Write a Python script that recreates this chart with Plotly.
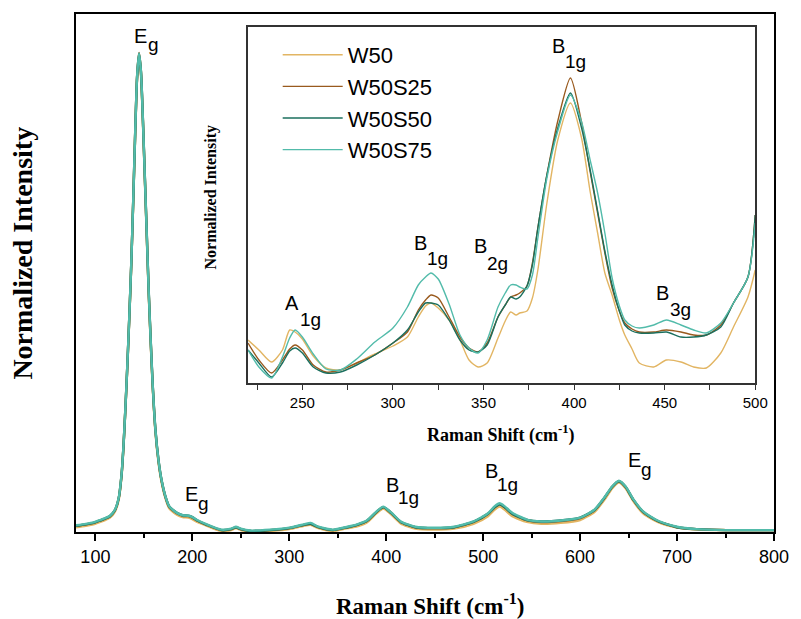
import plotly.graph_objects as go

# ---------------- main spectrum (normalized, peak = 1) ----------------
main_x = [80, 90, 98, 105, 110, 115, 120, 124, 127, 129, 131, 133, 135, 137, 139, 141, 143, 145,
          147, 149, 151, 153, 155, 157, 159, 162, 165, 168, 172, 176, 180, 185, 190, 196, 200, 205,
          215, 230, 240, 245, 250, 260, 280, 300, 315, 322, 330, 345, 360, 370, 380, 390, 397, 405,
          415, 430, 450, 470, 490, 505, 512, 517, 522, 530, 545, 560, 580, 600, 615, 625, 633, 640,
          647, 655, 665, 680, 700, 720, 750, 800]

main_w50 = [0.010, 0.013, 0.016, 0.021, 0.025, 0.030, 0.042, 0.067, 0.117, 0.177, 0.257, 0.347, 0.447, 0.557, 0.687, 0.827, 0.947, 0.995,
            0.957, 0.857, 0.737, 0.617, 0.497, 0.397, 0.307, 0.207, 0.147, 0.107, 0.072, 0.050, 0.042, 0.035, 0.031, 0.030, 0.027, 0.021,
            0.013, 0.002, 0.004, 0.008, 0.004, 0.001, 0.002, 0.006, 0.013, 0.015, 0.008, 0.002, 0.008, 0.012, 0.020, 0.039, 0.049, 0.037,
            0.018, 0.007, 0.005, 0.007, 0.017, 0.033, 0.047, 0.053, 0.047, 0.033, 0.021, 0.017, 0.019, 0.025, 0.042, 0.067, 0.091, 0.103,
            0.091, 0.064, 0.039, 0.021, 0.009, 0.005, 0.004, 0.004]

main_w50s25 = [0.013, 0.016, 0.019, 0.024, 0.028, 0.033, 0.045, 0.070, 0.120, 0.180, 0.260, 0.350, 0.450, 0.560, 0.690, 0.830, 0.950, 1.000,
               0.960, 0.860, 0.740, 0.620, 0.500, 0.400, 0.310, 0.210, 0.150, 0.110, 0.075, 0.053, 0.045, 0.038, 0.034, 0.033, 0.030, 0.024,
               0.015, 0.004, 0.006, 0.010, 0.006, 0.002, 0.004, 0.008, 0.015, 0.017, 0.010, 0.004, 0.010, 0.015, 0.023, 0.042, 0.052, 0.040,
               0.021, 0.010, 0.008, 0.010, 0.021, 0.038, 0.052, 0.058, 0.052, 0.038, 0.025, 0.021, 0.023, 0.029, 0.046, 0.071, 0.094, 0.106,
               0.094, 0.067, 0.042, 0.023, 0.010, 0.006, 0.004, 0.004]

main_w50s50 = [0.013, 0.016, 0.019, 0.024, 0.028, 0.033, 0.045, 0.070, 0.119, 0.179, 0.259, 0.349, 0.449, 0.559, 0.689, 0.829, 0.949, 0.998,
               0.962, 0.863, 0.744, 0.624, 0.504, 0.404, 0.313, 0.213, 0.152, 0.111, 0.076, 0.054, 0.046, 0.039, 0.035, 0.034, 0.031, 0.024,
               0.015, 0.004, 0.006, 0.010, 0.006, 0.002, 0.004, 0.008, 0.015, 0.017, 0.010, 0.004, 0.010, 0.015, 0.023, 0.042, 0.052, 0.040,
               0.021, 0.010, 0.008, 0.010, 0.021, 0.038, 0.052, 0.058, 0.052, 0.038, 0.025, 0.022, 0.024, 0.030, 0.046, 0.071, 0.094, 0.106,
               0.094, 0.067, 0.042, 0.023, 0.010, 0.006, 0.004, 0.004]

main_w50s75 = [0.014, 0.017, 0.020, 0.025, 0.029, 0.034, 0.046, 0.071, 0.121, 0.181, 0.261, 0.351, 0.451, 0.561, 0.691, 0.831, 0.951, 0.999,
               0.961, 0.861, 0.741, 0.621, 0.501, 0.401, 0.311, 0.211, 0.151, 0.111, 0.076, 0.054, 0.046, 0.039, 0.035, 0.034, 0.031, 0.025,
               0.016, 0.005, 0.007, 0.011, 0.007, 0.003, 0.005, 0.009, 0.016, 0.019, 0.011, 0.005, 0.011, 0.016, 0.024, 0.043, 0.053, 0.041,
               0.022, 0.011, 0.009, 0.011, 0.022, 0.039, 0.054, 0.060, 0.054, 0.040, 0.026, 0.022, 0.024, 0.030, 0.047, 0.072, 0.095, 0.107,
               0.095, 0.068, 0.043, 0.024, 0.011, 0.006, 0.004, 0.004]

# ---------------- inset spectrum (220-500 cm-1, arbitrary normalized units) ----------------
inset_x = [220, 226, 233, 239, 243, 246, 250, 256, 263, 271, 280, 290, 300, 308, 314, 318, 321, 325,
           331, 337, 342, 347, 352, 358, 362, 365, 368, 370, 374, 377, 380, 385, 391, 398, 404, 409,
           413, 417, 421, 425, 428, 432, 436, 444, 451, 459, 466, 473, 481, 488, 496, 500]

inset_w50 = [43, 33, 21, 33, 53, 51, 44, 27, 15, 13, 20, 29, 37, 46, 66, 77, 80, 75,
             63, 43, 23, 16, 20, 45, 62, 71, 68, 70, 72, 85, 113, 180, 243, 280, 246, 190,
             150, 110, 88, 63, 48, 34, 20, 16, 23, 21, 16, 15, 30, 56, 86, 113]

inset_w50s25 = [40, 23, 10, 23, 34, 38, 33, 18, 11, 13, 20, 28, 40, 51, 73, 83, 88, 85,
                66, 46, 35, 31, 40, 66, 78, 86, 88, 90, 97, 120, 155, 208, 262, 305, 262, 210,
                170, 130, 95, 72, 60, 54, 51, 51, 53, 51, 48, 48, 58, 80, 106, 168]

inset_w50s50 = [33, 20, 6, 20, 32, 35, 30, 16, 10, 11, 18, 28, 40, 53, 71, 80, 80, 78,
                63, 43, 33, 31, 38, 66, 78, 86, 84, 86, 97, 118, 155, 208, 255, 290, 256, 212,
                172, 132, 98, 72, 58, 52, 50, 50, 51, 46, 46, 48, 56, 80, 106, 168]

inset_w50s75 = [33, 16, 5, 26, 45, 53, 46, 29, 14, 13, 24, 41, 55, 76, 98, 106, 110, 104,
                79, 48, 35, 30, 43, 76, 90, 98, 98, 96, 94, 108, 145, 205, 252, 288, 262, 222,
                190, 150, 105, 77, 63, 57, 55, 58, 63, 58, 53, 50, 60, 80, 106, 160]

series_names = ["W50", "W50S25", "W50S50", "W50S75"]
series_colors = ["#E2B563", "#995A1E", "#1B6F5E", "#52BBAA"]
main_series = [main_w50, main_w50s25, main_w50s50, main_w50s75]
inset_series = [inset_w50, inset_w50s25, inset_w50s50, inset_w50s75]

# peak labels: letter, subscript
peak_letters = ["E", "E", "B", "B", "E", "A", "B", "B", "B", "B"]
peak_subs = ["g", "g", "1g", "1g", "g", "1g", "1g", "2g", "1g", "3g"]
# pixel positions (letter centre, subscript centre)
peak_letter_pos = [(141, 36), (193, 494), (396, 485), (496, 471), (641, 460),
                   (294, 303), (424, 243), (485, 246), (564, 46), (669, 293)]
peak_sub_pos = [(154, 44), (205, 503), (412, 497), (512, 484), (653, 469),
                (313, 319), (442, 258), (502, 263), (581, 61), (687, 309)]

# ---------------- figure geometry (pixels) ----------------
W, H = 801, 619
L, R, T, B = 76, 782, 14, 532
IL, IR, IT, IB = 250, 763, 27, 383


def px(X):
    return (X - L) / (R - L)


def py(Y):
    return (B - Y) / (B - T)


fig = go.Figure()

for name, color, vals in zip(series_names, series_colors, main_series):
    fig.add_trace(go.Scatter(x=main_x, y=vals, mode="lines", name=name, showlegend=False,
                             line=dict(color=color, width=2.4, shape="spline", smoothing=0.6),
                             xaxis="x", yaxis="y"))

for name, color, vals in zip(series_names, series_colors, inset_series):
    fig.add_trace(go.Scatter(x=inset_x, y=vals, mode="lines", name=name, showlegend=True,
                             line=dict(color=color, width=1.4, shape="spline", smoothing=0.7),
                             xaxis="x2", yaxis="y2"))

sans = "Liberation Sans, Arial, sans-serif"
serif = "Liberation Serif, Times New Roman, serif"

annotations = []
for letter, sub, (X1, Y1), (X2, Y2) in zip(peak_letters, peak_subs, peak_letter_pos, peak_sub_pos):
    annotations.append(dict(text=letter, x=px(X1), y=py(Y1), xref="paper", yref="paper",
                            showarrow=False, font=dict(family=sans, size=20, color="black"),
                            xanchor="center", yanchor="middle"))
    annotations.append(dict(text=sub, x=px(X2), y=py(Y2), xref="paper", yref="paper",
                            showarrow=False, font=dict(family=sans, size=19, color="black"),
                            xanchor="center", yanchor="middle"))

annotations += [
    dict(text="<b>Normalized Intensity</b>", x=px(22), y=py(253), xref="paper", yref="paper",
         textangle=-90, showarrow=False, font=dict(family=serif, size=28, color="black"),
         xanchor="center", yanchor="middle"),
    dict(text="<b>Raman Shift (cm<sup>-1</sup>)</b>", x=px(434), y=py(604), xref="paper", yref="paper",
         showarrow=False, font=dict(family=serif, size=23, color="black"),
         xanchor="center", yanchor="middle"),
    dict(text="<b>Normalized Intensity</b>", x=px(213), y=py(197), xref="paper", yref="paper",
         textangle=-90, showarrow=False, font=dict(family=serif, size=16, color="black"),
         xanchor="center", yanchor="middle"),
    dict(text="<b>Raman Shift (cm<sup>-1</sup>)</b>", x=px(506), y=py(434), xref="paper", yref="paper",
         showarrow=False, font=dict(family=serif, size=18, color="black"),
         xanchor="center", yanchor="middle"),
]

fig.update_layout(
    width=W, height=H,
    margin=dict(l=L, r=W - R, t=T, b=H - B, pad=0),
    paper_bgcolor="white", plot_bgcolor="white",
    showlegend=True,
    legend=dict(x=px(280), y=py(34), xanchor="left", yanchor="top",
                font=dict(family=sans, size=22, color="black"),
                itemwidth=60,
                bgcolor="rgba(0,0,0,0)", borderwidth=0, tracegroupgap=0),
    xaxis=dict(domain=[0, 1], range=[80, 800], anchor="y",
               showline=True, linecolor="black", linewidth=2, mirror=True,
               ticks="outside", ticklen=7, tickwidth=1.5, tickcolor="black",
               tick0=0, dtick=100,
               minor=dict(dtick=50, tick0=0, ticks="outside", ticklen=4, tickwidth=1.5, tickcolor="black"),
               tickfont=dict(family=sans, size=18, color="black"),
               showgrid=False, zeroline=False),
    yaxis=dict(domain=[0, 1], range=[0, (B - T) / 479.0], anchor="x",
               showline=True, linecolor="black", linewidth=2, mirror=True,
               ticks="", showticklabels=False, showgrid=False, zeroline=False),
    xaxis2=dict(domain=[px(IL), px(IR)], range=[220, 500], anchor="y2",
                showline=True, linecolor="#333333", linewidth=2, mirror=True,
                ticks="outside", ticklen=5, tickwidth=1.2, tickcolor="#333333",
                tick0=0, dtick=50,
                minor=dict(dtick=25, tick0=0, ticks="outside", ticklen=5, tickwidth=1.2, tickcolor="#333333"),
                tickfont=dict(family=sans, size=15, color="black"),
                showgrid=False, zeroline=False),
    yaxis2=dict(domain=[py(IB), py(IT)], range=[0, 356], anchor="x2",
                showline=True, linecolor="#333333", linewidth=2, mirror=True,
                ticks="", showticklabels=False, showgrid=False, zeroline=False),
    annotations=annotations,
)

fig.write_html("out.html")
